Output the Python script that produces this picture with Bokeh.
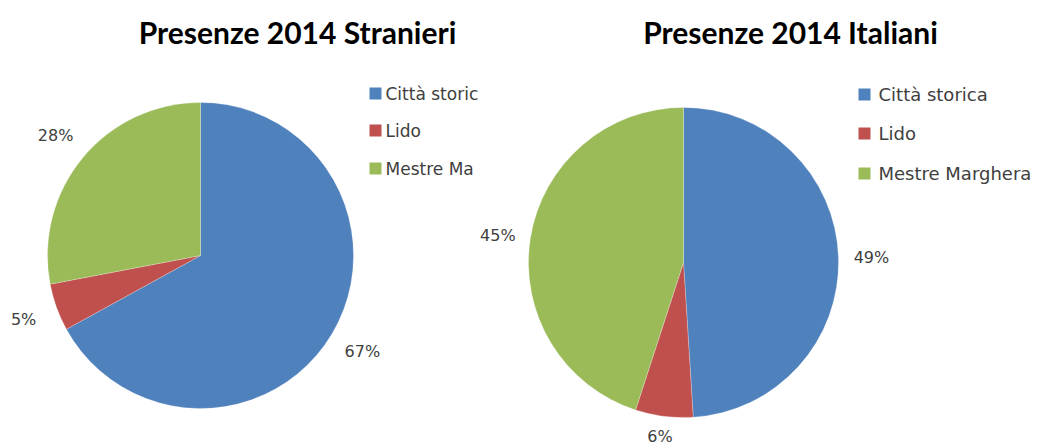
import numpy as np
from bokeh.plotting import figure
from bokeh.layouts import row
from bokeh.models import ColumnDataSource
from bokeh.core.properties import value
from bokeh.embed import file_html
from bokeh.resources import INLINE

# ---- data ----
categories = ["Città storica", "Lido", "Mestre Marghera"]
# the left legend is truncated in the reference image
left_legend_labels = ["Città storic", "Lido", "Mestre Ma"]
stranieri_pct = [67, 5, 28]
italiani_pct = [49, 6, 45]
titles = ["Presenze 2014 Stranieri", "Presenze 2014 Italiani"]
colors = ["#4F81BD", "#C0504D", "#9BBB59"]

H = 448
TXT = "#404040"
FONT = value("DejaVu Sans")


def make_pie(width, values, title, labels, cx, cy, r, off_x, off_y, title_x,
             leg_x, leg_ys, sq, gap, leg_size):
    p = figure(width=width, height=H, x_range=(0, width), y_range=(0, H),
               output_backend="svg", toolbar_location=None, min_border=0,
               outline_line_color=None)
    p.axis.visible = False
    p.grid.visible = False

    vals = np.array(values, dtype=float)
    frac = vals / vals.sum()
    cum = np.concatenate([[0], np.cumsum(frac)])
    # clockwise from 12 o'clock
    start = np.pi / 2 - 2 * np.pi * cum[1:]
    end = np.pi / 2 - 2 * np.pi * cum[:-1]
    mid = np.pi / 2 - 2 * np.pi * (cum[:-1] + frac / 2)
    src = ColumnDataSource(dict(start=start, end=end, color=colors,
                                lab=[f"{v:.0f}%" for v in vals],
                                lx=cx + (r + off_x) * np.cos(mid),
                                ly=cy + (r + off_y) * np.sin(mid)))
    p.wedge(x=cx, y=cy, radius=r, start_angle="start", end_angle="end",
            fill_color="color", line_color="white", line_width=0.4,
            line_alpha=0.6, source=src)
    p.text(x="lx", y="ly", text="lab", source=src, text_align="center",
           text_baseline="middle", text_font=FONT,
           text_font_size="16px", text_color=TXT)

    # title
    p.text(x=[title_x], y=[H - 31], text=[title], text_align="center",
           text_baseline="middle", text_font=value("Lato"),
           text_font_style="bold", text_font_size="30px", text_color="black")

    # legend
    p.rect(x=[leg_x] * 3, y=leg_ys, width=sq, height=sq, fill_color=colors,
           line_color=None)
    p.text(x=[leg_x + sq / 2 + gap] * 3, y=leg_ys, text=labels,
           text_align="left", text_baseline="middle",
           text_font=FONT, text_font_size=leg_size, text_color=TXT)
    return p


# left figure spans image x 0..478, right 478..1043 ; data y = 448 - img_y
p1 = make_pie(478, stranieri_pct, titles[0], left_legend_labels,
              cx=200, cy=193, r=153, off_x=35, off_y=35, title_x=297,
              leg_x=375, leg_ys=[355, 318, 280], sq=12, gap=4,
              leg_size="17px")
p2 = make_pie(565, italiani_pct, titles[1], categories,
              cx=205, cy=186, r=155, off_x=33, off_y=20, title_x=312,
              leg_x=386, leg_ys=[354, 315, 275], sq=12, gap=8,
              leg_size="18px")

layout = row(p1, p2, spacing=0)
open("out.html", "w").write(file_html(layout, INLINE))
